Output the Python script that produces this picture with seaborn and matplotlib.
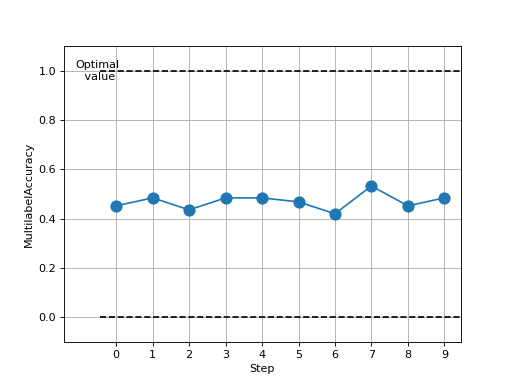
import matplotlib
matplotlib.use("Agg")
import matplotlib.pyplot as plt
import seaborn as sns
import numpy as np

steps = [0, 1, 2, 3, 4, 5, 6, 7, 8, 9]
accuracy = [0.4516, 0.4839, 0.4355, 0.4839, 0.4839, 0.4677, 0.4194, 0.5323, 0.4516, 0.4839]
optimal_values = [0.0, 1.0]
optimal_label = "Optimal\n value"

fig, ax = plt.subplots(figsize=(6.4, 4.8), dpi=80)
sns.lineplot(x=steps, y=accuracy, marker="o", markersize=11, markeredgewidth=0,
             color="#1f77b4", ax=ax, zorder=3)
ax.hlines(optimal_values, -0.44, 9.45, colors="k", linestyles="--", linewidth=1.5, zorder=2)
ax.text(-0.5, 1.0, optimal_label, ha="center", va="center", fontsize=10)
ax.set_xlim(-1.43, 9.45)
ax.set_ylim(-0.1, 1.1)
ax.set_xticks(steps)
ax.grid(True, color="#b0b0b0", linewidth=0.8)
ax.set_axisbelow(True)
ax.set_xlabel("Step")
ax.set_ylabel("MultilabelAccuracy")
fig.savefig("out.png", dpi=80)
